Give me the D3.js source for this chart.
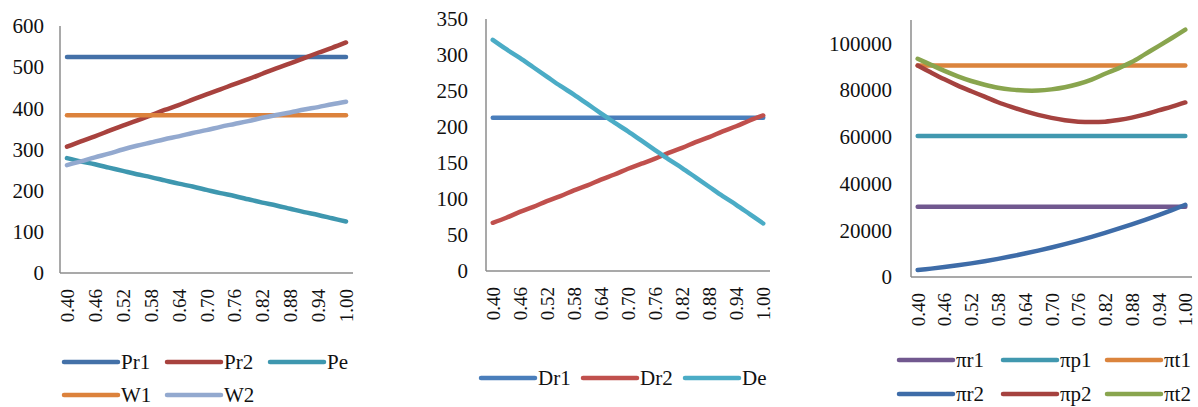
<!DOCTYPE html>
<html>
<head>
<meta charset="utf-8">
<script src="https://cdn.jsdelivr.net/npm/d3@7"></script>
<style>
  html, body { margin: 0; padding: 0; background: #fff; }
  svg, svg text { font-family: "Liberation Serif", "Times New Roman", serif; }
</style>
</head>
<body>
<svg id="chart" width="1198" height="407"></svg>
<script>
// Shared category axis (parameter value)
const categories = [0.40, 0.43, 0.46, 0.49, 0.52, 0.55, 0.58, 0.61, 0.64, 0.67, 0.70,
                    0.73, 0.76, 0.79, 0.82, 0.85, 0.88, 0.91, 0.94, 0.97, 1.00];
const xTickLabels = ["0.40", "0.46", "0.52", "0.58", "0.64", "0.70", "0.76", "0.82", "0.88", "0.94", "1.00"];

// Panel 1: prices and wholesale prices
const pr1 = [525, 525, 525, 525, 525, 525, 525, 525, 525, 525, 525, 525, 525, 525, 525, 525, 525, 525, 525, 525, 525];
const pr2 = [307, 320, 332, 345, 358, 370, 383, 396, 408, 421, 434, 446, 459, 471, 484, 497, 509, 522, 535, 547, 560];
const pe  = [279, 271, 264, 256, 248, 240, 233, 225, 217, 210, 202, 194, 187, 179, 171, 164, 156, 148, 141, 133, 125];
const w1  = [383, 383, 383, 383, 383, 383, 383, 383, 383, 383, 383, 383, 383, 383, 383, 383, 383, 383, 383, 383, 383];
const w2  = [262, 271, 281, 290, 300, 309, 317, 325, 332, 340, 347, 355, 362, 369, 377, 384, 390, 397, 403, 410, 416];
const ticks1 = [0, 100, 200, 300, 400, 500, 600];

// Panel 2: demands
const dr1 = [213, 213, 213, 213, 213, 213, 213, 213, 213, 213, 213, 213, 213, 213, 213, 213, 213, 213, 213, 213, 213];
const dr2 = [67, 74, 82, 89, 97, 104, 112, 119, 127, 134, 142, 149, 156, 164, 171, 179, 186, 194, 201, 209, 216];
const de  = [321, 308, 296, 283, 270, 257, 245, 232, 219, 206, 194, 181, 168, 155, 143, 130, 117, 104, 92, 79, 66];
const ticks2 = [0, 50, 100, 150, 200, 250, 300, 350];

// Panel 3: profits
const pir1 = [30100, 30100, 30100, 30100, 30100, 30100, 30100, 30100, 30100, 30100, 30100,
              30100, 30100, 30100, 30100, 30100, 30100, 30100, 30100, 30100, 30100];
const pip1 = [60400, 60400, 60400, 60400, 60400, 60400, 60400, 60400, 60400, 60400, 60400,
              60400, 60400, 60400, 60400, 60400, 60400, 60400, 60400, 60400, 60400];
const pit1 = [90500, 90500, 90500, 90500, 90500, 90500, 90500, 90500, 90500, 90500, 90500,
              90500, 90500, 90500, 90500, 90500, 90500, 90500, 90500, 90500, 90500];
const pir2 = [3000, 3580, 4240, 4990, 5830, 6750, 7760, 8850, 10030, 11290, 12640,
              14080, 15600, 17200, 18900, 20670, 22540, 24490, 26520, 28640, 30850];
const pip2 = [90500, 87500, 84600, 81900, 79500, 77200, 74800, 72800, 71000, 69400, 68100,
              67100, 66500, 66300, 66500, 67200, 68200, 69600, 71300, 72900, 74700];
const pit2 = [93400, 90800, 88200, 85900, 83900, 82300, 81000, 80200, 79800, 79800, 80300,
              81200, 82600, 84500, 87000, 89300, 92000, 95400, 98800, 102300, 105900];
const ticks3 = [0, 20000, 40000, 60000, 80000, 100000];

const FONT = '"Liberation Serif", "Times New Roman", serif';
const svg = d3.select("#chart");
svg.append("rect").attr("width", 1198).attr("height", 407).attr("fill", "#fff");

function drawPanel(p) {
  const g = svg.append("g");
  const x = d3.scalePoint().domain(categories).range([p.x0, p.x1]).padding(0.5);
  const y = d3.scaleLinear().domain([0, p.yMax]).range([p.yBottom, p.yTop]);

  // value axis labels
  const yAxis = d3.axisLeft(y).tickValues(p.ticks).tickSize(0).tickPadding(p.labelGap).tickFormat(d3.format("d"));
  const ya = g.append("g").attr("transform", `translate(${p.x0},0)`).call(yAxis)
    .attr("font-family", null).attr("font-size", null);
  ya.select(".domain").remove();
  ya.selectAll("text").style("font-family", FONT).style("font-size", "21px").attr("fill", "#111");

  // category labels, rotated
  const labelled = new Set(xTickLabels);
  const xAxis = d3.axisBottom(x).tickSize(0)
    .tickValues(categories.filter(c => labelled.has(c.toFixed(2))))
    .tickFormat(d => d.toFixed(2));
  const xa = g.append("g").attr("transform", `translate(0,${p.yBottom})`).call(xAxis)
    .attr("font-family", null).attr("font-size", null);
  xa.select(".domain").remove();
  xa.selectAll("text")
    .style("font-family", FONT).style("font-size", "19px").attr("fill", "#111")
    .attr("text-anchor", "end").attr("dy", null)
    .attr("dominant-baseline", "central")
    .attr("transform", "translate(0,16) rotate(-90)")
    .attr("x", 0).attr("y", 0);

  // axis lines
  g.append("line").attr("x1", p.x0).attr("x2", p.x0).attr("y1", p.yTop).attr("y2", p.yBottom)
    .attr("stroke", "#8c8c8c").attr("stroke-width", 1.5);
  g.append("line").attr("x1", p.x0).attr("x2", p.x1).attr("y1", p.yBottom).attr("y2", p.yBottom)
    .attr("stroke", "#8c8c8c").attr("stroke-width", 1.5);

  // series lines
  const line = d3.line().x((d, i) => x(categories[i])).y(d => y(d)).curve(d3.curveCatmullRom);
  p.series.forEach(s => {
    g.append("path").datum(s.values)
      .attr("d", line).attr("fill", "none")
      .attr("stroke", s.color).attr("stroke-width", 4.5)
      .attr("stroke-linecap", "round").attr("stroke-linejoin", "round");
  });

  // legend
  p.legend.forEach(item => {
    const s = p.series.find(d => d.name === item.name);
    g.append("line").attr("x1", item.x).attr("x2", item.x + 54).attr("y1", item.y).attr("y2", item.y)
      .attr("stroke", s.color).attr("stroke-width", 4.5).attr("stroke-linecap", "round");
    g.append("text").attr("x", item.x + 57).attr("y", item.y)
      .attr("dominant-baseline", "central").style("font-family", FONT).style("font-size", "21px")
      .attr("fill", "#111").text(s.name);
  });
}

drawPanel({
  x0: 60, x1: 353, yTop: 26, yBottom: 273, yMax: 600, ticks: ticks1, labelGap: 16,
  series: [
    { name: "Pr1", values: pr1, color: "#4471a8" },
    { name: "Pr2", values: pr2, color: "#a8423e" },
    { name: "Pe",  values: pe,  color: "#3e97af" },
    { name: "W1",  values: w1,  color: "#dc823c" },
    { name: "W2",  values: w2,  color: "#93a9cf" }
  ],
  legend: [
    { name: "Pr1", x: 64, y: 362 }, { name: "Pr2", x: 167, y: 362 }, { name: "Pe", x: 270, y: 362 },
    { name: "W1", x: 64, y: 395 }, { name: "W2", x: 167, y: 395 }
  ]
});

drawPanel({
  x0: 486, x1: 770, yTop: 19, yBottom: 271, yMax: 350, ticks: ticks2, labelGap: 18,
  series: [
    { name: "Dr1", values: dr1, color: "#4a7ebb" },
    { name: "Dr2", values: dr2, color: "#c0504d" },
    { name: "De",  values: de,  color: "#4bacc6" }
  ],
  legend: [
    { name: "Dr1", x: 481, y: 378 }, { name: "Dr2", x: 583, y: 378 }, { name: "De", x: 685, y: 378 }
  ]
});

drawPanel({
  x0: 911, x1: 1192, yTop: 20, yBottom: 277, yMax: 110000, ticks: ticks3, labelGap: 19,
  series: [
    { name: "πr1", values: pir1, color: "#71588f" },
    { name: "πp1", values: pip1, color: "#4198af" },
    { name: "πt1", values: pit1, color: "#db843d" },
    { name: "πr2", values: pir2, color: "#3e6ca8" },
    { name: "πp2", values: pip2, color: "#a5423f" },
    { name: "πt2", values: pit2, color: "#89a54e" }
  ],
  legend: [
    { name: "πr1", x: 899, y: 360 }, { name: "πp1", x: 1003, y: 360 }, { name: "πt1", x: 1107, y: 360 },
    { name: "πr2", x: 899, y: 394 }, { name: "πp2", x: 1003, y: 394 }, { name: "πt2", x: 1107, y: 394 }
  ]
});
</script>
</body>
</html>
